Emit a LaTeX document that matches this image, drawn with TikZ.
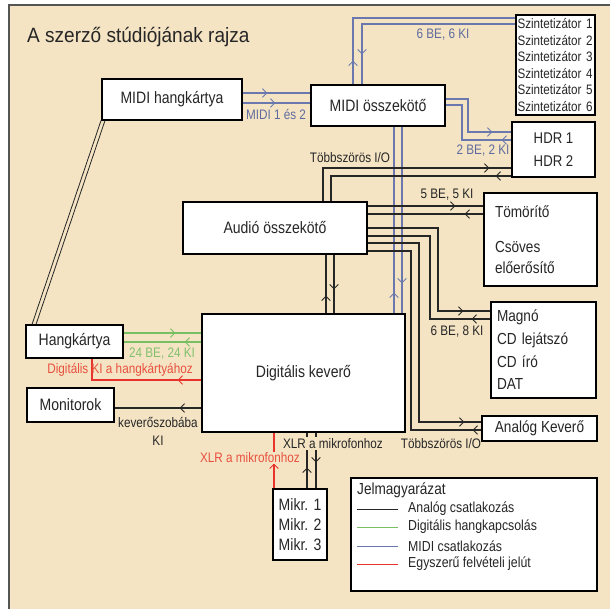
\documentclass[tikz,border=0pt]{standalone}
\usepackage{fontspec}
\setmainfont[FakeStretch=0.85]{Liberation Sans}
\newfontfamily\titlefont[FakeStretch=0.92]{Liberation Sans}
\usetikzlibrary{arrows.meta,decorations.markings}
\definecolor{bgc}{HTML}{F4E4C4}
\definecolor{framec}{HTML}{555555}
\definecolor{midic}{HTML}{6A78AE}
\definecolor{midit}{HTML}{5F6B9F}
\definecolor{greenc}{HTML}{78BE62}
\definecolor{greent}{HTML}{82C06E}
\definecolor{redc}{HTML}{E8322C}
\definecolor{redt}{HTML}{E8503E}
\definecolor{blk}{HTML}{262626}
\begin{document}
\begin{tikzpicture}[x=1pt,y=-1pt,
  box/.style={draw=black, fill=white, line width=1.1pt, inner sep=0pt, text=blk, font=\fontsize{16.5}{19}\selectfont},
  lab/.style={inner sep=1pt, font=\fontsize{13.8}{18}\selectfont},
  con/.style={line width=1.1pt},
  an/.style={con, draw=blk},
  mi/.style={con, draw=midic},
  dg/.style={con, draw=greenc},
  rd/.style={con, draw=redc},
  arr/.style={postaction={decorate}, decoration={markings, mark=at position #1 with {\arrow[line width=0.9pt]{Straight Barb[length=4.5pt,width=8.5pt]}}}}
]
\useasboundingbox (0,0) rectangle (610,609);
\fill[bgc] (9,5) rectangle (610,609);
\draw[framec, line width=1.5pt] (9,609) -- (9,5) -- (610,5);

% title
\node[anchor=base west, inner sep=0pt, text=blk, font=\titlefont\fontsize{20.7}{24}\selectfont] (title) at (27,43) {A szerző stúdiójának rajza};

% boxes
\node[box, minimum width=140pt, minimum height=41pt] (midihk) at (172,99.5) {MIDI hangkártya};
\node[box, minimum width=134pt, minimum height=41pt] (midiconn) at (378,105.5) {MIDI összekötő};
\node[box, text width=76pt, inner xsep=1.5pt, minimum height=100pt, align=left, font=\fontsize{13.7}{16.5}\selectfont] (synth) at (555.5,65) {Szintetizátor 1\\Szintetizátor 2\\Szintetizátor 3\\Szintetizátor 4\\Szintetizátor 5\\Szintetizátor 6};
\node[box, minimum width=83pt, minimum height=55pt, align=center, font=\fontsize{15.5}{23}\selectfont] (hdr) at (553.5,149.5) {HDR 1\\HDR 2};
\node[box, text width=91pt, inner xsep=11pt, minimum height=93pt, align=left, font=\fontsize{16}{21}\selectfont] (comp) at (540.5,239.5) {Tömörítő\\[14.5pt]Csöves\\előerősítő};
\node[box, minimum width=184pt, minimum height=52pt] (audio) at (275,228) {Audió összekötő};
\node[box, text width=93pt, inner xsep=6pt, minimum height=96pt, align=left, font=\fontsize{16}{22.7}\selectfont] (magno) at (543.5,350) {Magnó\\CD lejátszó\\CD író\\DAT};
\node[box, minimum width=115pt, minimum height=25pt, font=\fontsize{16}{19}\selectfont] (analog) at (539.5,428.5) {Analóg Keverő};
\node[box, minimum width=203pt, minimum height=118pt] (digi) at (303.5,373) {Digitális keverő};
\node[box, minimum width=97pt, minimum height=33pt] (hangk) at (74.5,341.5) {Hangkártya};
\node[box, minimum width=87pt, minimum height=34pt] (monit) at (70.5,405) {Monitorok};
\node[box, minimum width=54pt, minimum height=71pt, align=center, font=\fontsize{16.5}{20}\selectfont] (mikr) at (300,524.5) {Mikr. 1\\Mikr. 2\\Mikr. 3};
\node[box, minimum width=246pt, minimum height=113pt] (legend) at (474,534.5) {};

% double line MIDI hangkartya - Hangkartya
\draw[blk, line width=0.8pt] (midihk.south west -| 101,0) -- (hangk.north west -| 32,0);
\draw[blk, line width=0.8pt] (midihk.south west -| 105,0) -- (hangk.north west -| 36,0);

% MIDI connections
\draw[mi, arr=25pt] (midihk.east |- 0,93) -- (midiconn.west |- 0,93);
\draw[mi, arr=33pt] (midihk.east |- 0,103) -- (midiconn.west |- 0,103);
\node[lab, text=midit] (lmidi12) at (276,114) {MIDI 1 és 2};

\draw[mi, arr=24pt] (midiconn.north -| 353,0) |- (synth.west |- 0,18);
\draw[mi, arr=184pt] (synth.west |- 0,24) -| (midiconn.north -| 362,0);
\node[lab, text=midit] (l66) at (443,35) {6 BE, 6 KI};

\draw[mi, arr=80pt] (midiconn.east |- 0,99) -| (468,132) -- (hdr.west |- 0,132);
\draw[mi, arr=10pt] (hdr.west |- 0,140) -| (462,105) -- (midiconn.east |- 0,105);
\node[lab, text=midit] (l22) at (483,151) {2 BE, 2 KI};

\draw[mi, arr=21pt] (digi.north -| 394,0) -- (midiconn.south -| 394,0);
\draw[mi, arr=157pt] (midiconn.south -| 402,0) -- (digi.north -| 402,0);

% analog connections
\draw[an, arr=200pt] (audio.north -| 323,0) |- (hdr.west |- 0,168);
\draw[an, arr=16pt] (hdr.west |- 0,176) -| (audio.north -| 331,0);
\node[lab, text=blk] (ltobb1) at (350,158) {Többszörös I/O};

\draw[an, arr=88pt] (audio.east |- 0,206) -- (comp.west |- 0,206);
\draw[an, arr=19pt] (comp.west |- 0,214) -- (audio.east |- 0,214);
\node[lab, text=blk] (l55) at (447,195) {5 BE, 5 KI};

\draw[an, arr=179pt] (audio.east |- 0,228) -| (438,311) -- (magno.west |- 0,311);
\draw[an, arr=19pt] (magno.west |- 0,319) -| (430,236) -- (audio.east |- 0,236);
\node[lab, text=blk] (l68) at (457,332) {6 BE, 8 KI};

\draw[an, arr=276pt] (audio.east |- 0,243) -| (419,422) -- (analog.west |- 0,422);
\draw[an, arr=9pt] (analog.west |- 0,430) -| (411,251) -- (audio.east |- 0,251);
\node[lab, text=blk] (ltobb2) at (441,444) {Többszörös I/O};

\draw[an, arr=18pt] (digi.north -| 326,0) -- (audio.south -| 326,0);
\draw[an, arr=35pt] (audio.south -| 334,0) -- (digi.north -| 334,0);

% digital (green)
\draw[dg, arr=52pt] (hangk.east |- 0,333) -- (digi.west |- 0,333);
\draw[dg, arr=17pt] (digi.west |- 0,342) -- (hangk.east |- 0,342);
\node[lab, text=greent] (l24) at (162,354) {24 BE, 24 KI};

% red
\draw[rd, arr=24pt] (digi.west |- 0,380) -| (hangk.south -| 92,0);
\node[lab, text=redt] (ldigki) at (120,369.5) {Digitális KI a hangkártyához};

% monitors
\draw[an, arr=22pt] (digi.west |- 0,408) -- (monit.east |- 0,408);
\node[lab, text=blk, align=center] (lkev) at (158,431) {keverőszobába\\KI};

% microphones
\draw[rd, arr=25pt] (mikr.north -| 274,0) -- (digi.south -| 274,0);
\draw[an, arr=21pt] (mikr.north -| 307,0) -- (digi.south -| 307,0);
\draw[an, arr=30pt] (digi.south -| 316,0) -- (mikr.north -| 316,0);
\node[lab, text=redt, fill=bgc] (lxlr2) at (250,458) {XLR a mikrofonhoz};
\node[lab, text=blk, fill=bgc] (lxlr1) at (333,443.5) {XLR a mikrofonhoz};

% legend
\node[anchor=west, inner sep=0pt, text=blk, font=\fontsize{16}{19}\selectfont] (lgt) at (357,490) {Jelmagyarázat};
\draw[blk, line width=1pt] (357,509) -- (398,509);
\draw[greenc, line width=1pt] (357,527) -- (398,527);
\draw[midic, line width=1pt] (357,546) -- (398,546);
\draw[redc, line width=1pt] (357,564) -- (398,564);
\node[anchor=west, inner sep=0pt, text=blk, font=\fontsize{14.5}{17}\selectfont] (lg1) at (408,509) {Analóg csatlakozás};
\node[anchor=west, inner sep=0pt, text=blk, font=\fontsize{14.5}{17}\selectfont] (lg2) at (408,527) {Digitális hangkapcsolás};
\node[anchor=west, inner sep=0pt, text=blk, font=\fontsize{14.5}{17}\selectfont] (lg3) at (408,546) {MIDI csatlakozás};
\node[anchor=west, inner sep=0pt, text=blk, font=\fontsize{14.5}{17}\selectfont] (lg4) at (408,564) {Egyszerű felvételi jelút};
\end{tikzpicture}
\end{document}
